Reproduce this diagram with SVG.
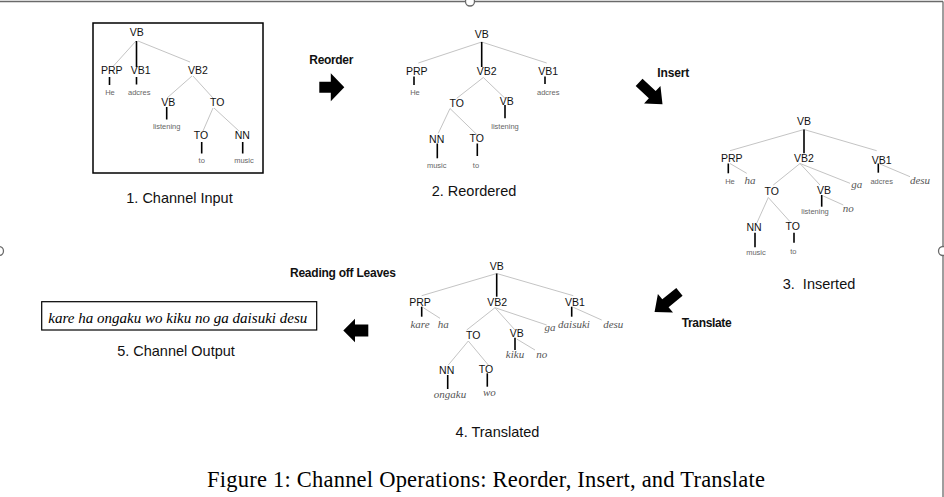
<svg xmlns="http://www.w3.org/2000/svg" width="944" height="497" viewBox="0 0 944 497">
<style>
.n{font-family:"Liberation Sans",Arial,sans-serif;font-size:10.5px;fill:#111;text-anchor:middle}
.l{font-family:"Liberation Sans",Arial,sans-serif;font-size:7.5px;fill:#666;text-anchor:middle}
.i{font-family:"Liberation Serif","Times New Roman",serif;font-style:italic;font-size:11px;fill:#555;text-anchor:middle}
.c{font-family:"Liberation Sans",Arial,sans-serif;font-size:14.5px;fill:#111;text-anchor:middle}
.op{font-family:"Liberation Sans",Arial,sans-serif;font-size:12px;font-weight:bold;fill:#111}
.g{stroke:#c4c4c4;stroke-width:1;fill:none}
.b{stroke:#000;stroke-width:1.6;fill:none}
.frame{stroke:#6a6a6a;stroke-width:1.3;fill:none}
.handle{stroke:#6a6a6a;stroke-width:1.3;fill:#fff}
</style>
<defs>
<path id="arrowR" d="M-12.5,-5.5 H-1 V-14 L12.5,0 L-1,14 V5.5 H-12.5 Z" fill="#000"/>
<path id="arrowD" d="M-16,-5 H2 V-12 L16,0 L2,12 V5 H-16 Z" fill="#000"/>
<path id="arrowL" d="M-12.5,-6 H0.8 V-11.7 L12.5,0 L0.8,11.7 V6 H-12.5 Z" fill="#000"/>
</defs>

<g id="frame">
<line class="frame" x1="0" y1="1.5" x2="943" y2="1.5"/>
<line class="frame" x1="943" y1="1.5" x2="943" y2="497"/>
<circle class="handle" cx="470" cy="1.5" r="4.5"/>
<circle class="handle" cx="-1" cy="251" r="4.5"/>
<circle class="handle" cx="943" cy="251" r="4.5"/>
</g>

<g id="tree1">
<rect x="93" y="23" width="170" height="150" fill="none" stroke="#000" stroke-width="1.5"/>
<g class="edges">
<line class="g" x1="136" y1="41" x2="113" y2="66.5"/>
<line class="g" x1="138" y1="41" x2="190" y2="62"/>
<line class="g" x1="192" y1="76" x2="167" y2="98"/>
<line class="g" x1="193" y1="76" x2="213" y2="98"/>
<line class="g" x1="213" y1="108" x2="203" y2="131"/>
<line class="g" x1="214" y1="108" x2="239" y2="131"/>
<line class="b" x1="136.5" y1="41" x2="136.5" y2="67"/>
<line class="b" x1="109.5" y1="77" x2="109.5" y2="85"/>
<line class="b" x1="136.5" y1="77" x2="136.5" y2="84.5"/>
<line class="b" x1="166.7" y1="107" x2="166.7" y2="119.5"/>
<line class="b" x1="201.7" y1="142" x2="201.7" y2="153.5"/>
<line class="b" x1="242.7" y1="142" x2="242.7" y2="153.5"/>
</g>
<text class="n" x="136.7" y="36.3">VB</text>
<text class="n" x="111.7" y="74.3">PRP</text>
<text class="n" x="140.7" y="74.3">VB1</text>
<text class="n" x="198" y="74.3">VB2</text>
<text class="n" x="168.3" y="106.3">VB</text>
<text class="n" x="217.3" y="106.3">TO</text>
<text class="n" x="201" y="139.3">TO</text>
<text class="n" x="242.3" y="139.3">NN</text>
<text class="l" x="110" y="94.5">He</text>
<text class="l" x="139.3" y="94.5">adcres</text>
<text class="l" x="166.7" y="128.5">listening</text>
<text class="l" x="201.7" y="162.5">to</text>
<text class="l" x="244" y="162.5">music</text>
<text class="c" x="179.5" y="203">1. Channel Input</text>
</g>

<g id="tree2">
<g class="edges">
<line class="g" x1="481.7" y1="42" x2="418.3" y2="63"/>
<line class="g" x1="481.7" y1="42" x2="546.7" y2="63"/>
<line class="g" x1="483.3" y1="77.5" x2="456.7" y2="98.3"/>
<line class="g" x1="483.3" y1="77.5" x2="505" y2="98.3"/>
<line class="g" x1="450" y1="108.5" x2="438.3" y2="133.3"/>
<line class="g" x1="450" y1="108.5" x2="477.3" y2="135"/>
<line class="b" x1="481.7" y1="42" x2="481.7" y2="67"/>
<line class="b" x1="414" y1="76.5" x2="414" y2="85"/>
<line class="b" x1="545" y1="76.5" x2="545" y2="84"/>
<line class="b" x1="505" y1="105" x2="505" y2="118.3"/>
<line class="b" x1="437.3" y1="143.5" x2="437.3" y2="158.3"/>
<line class="b" x1="477.3" y1="143.5" x2="477.3" y2="156"/>
</g>
<text class="n" x="481.7" y="37.5">VB</text>
<text class="n" x="416.7" y="75.3">PRP</text>
<text class="n" x="486.7" y="75.3">VB2</text>
<text class="n" x="548.3" y="75.3">VB1</text>
<text class="n" x="456.7" y="106.9">TO</text>
<text class="n" x="506.7" y="105.3">VB</text>
<text class="n" x="436.7" y="142.9">NN</text>
<text class="n" x="476.7" y="141.9">TO</text>
<text class="l" x="415" y="95.2">He</text>
<text class="l" x="548.3" y="95.2">adcres</text>
<text class="l" x="505" y="128.5">listening</text>
<text class="l" x="436.7" y="167.5">music</text>
<text class="l" x="476" y="167.5">to</text>
<text class="c" x="474" y="196">2. Reordered</text>
</g>

<g id="tree3">
<g class="edges">
<line class="g" x1="804" y1="129.5" x2="730" y2="150.7"/>
<line class="g" x1="804" y1="129.5" x2="876.7" y2="150.7"/>
<line class="g" x1="730" y1="163.5" x2="746.7" y2="173.3"/>
<line class="g" x1="800" y1="163.5" x2="773.3" y2="185"/>
<line class="g" x1="800" y1="163.5" x2="820" y2="185"/>
<line class="g" x1="800" y1="163.5" x2="850" y2="183.3"/>
<line class="g" x1="880" y1="164" x2="910" y2="176.7"/>
<line class="g" x1="823.3" y1="196" x2="843.3" y2="205"/>
<line class="g" x1="768.3" y1="197.5" x2="756.7" y2="223.3"/>
<line class="g" x1="768.3" y1="197.5" x2="790" y2="221.7"/>
<line class="b" x1="804" y1="129.5" x2="804" y2="153.3"/>
<line class="b" x1="728.3" y1="163.5" x2="728.3" y2="173.3"/>
<line class="b" x1="878.3" y1="163.5" x2="878.3" y2="172.7"/>
<line class="b" x1="821.7" y1="195" x2="821.7" y2="206.7"/>
<line class="b" x1="755" y1="232.7" x2="755" y2="247.3"/>
<line class="b" x1="794" y1="232.7" x2="794" y2="242.7"/>
</g>
<text class="n" x="804" y="125.3">VB</text>
<text class="n" x="731.7" y="161.9">PRP</text>
<text class="n" x="804" y="161.9">VB2</text>
<text class="n" x="881.7" y="163.6">VB1</text>
<text class="n" x="771.7" y="194.6">TO</text>
<text class="n" x="824" y="193.6">VB</text>
<text class="n" x="754" y="230.9">NN</text>
<text class="n" x="792.7" y="230.3">TO</text>
<text class="l" x="730" y="183.5">He</text>
<text class="l" x="881.7" y="183.5">adcres</text>
<text class="l" x="815" y="214">listening</text>
<text class="l" x="756" y="255">music</text>
<text class="l" x="793.3" y="253.5">to</text>
<text class="i" x="750" y="183.5" font-size="10">ha</text>
<text class="i" x="856.7" y="187.5">ga</text>
<text class="i" x="848.3" y="212" font-size="10">no</text>
<text class="i" x="920" y="184">desu</text>
<text class="c" x="819" y="289">3.&#160; Inserted</text>
</g>

<g id="tree4">
<g class="edges">
<line class="g" x1="496.7" y1="273.5" x2="421.7" y2="295.7"/>
<line class="g" x1="496.7" y1="273.5" x2="573.3" y2="295.7"/>
<line class="g" x1="423.3" y1="307.7" x2="440" y2="318.3"/>
<line class="g" x1="495" y1="307.7" x2="466.7" y2="330"/>
<line class="g" x1="495" y1="307.7" x2="515" y2="330"/>
<line class="g" x1="495" y1="307.7" x2="546.7" y2="325"/>
<line class="g" x1="573.3" y1="307.3" x2="601.7" y2="320"/>
<line class="g" x1="516.7" y1="339" x2="535" y2="350"/>
<line class="g" x1="468.3" y1="341" x2="448.3" y2="365"/>
<line class="g" x1="468.3" y1="341" x2="488.3" y2="365"/>
<line class="b" x1="496.7" y1="273.5" x2="496.7" y2="296.7"/>
<line class="b" x1="421.7" y1="306.7" x2="421.7" y2="316.7"/>
<line class="b" x1="571.7" y1="306.7" x2="571.7" y2="316.7"/>
<line class="b" x1="515" y1="337.7" x2="515" y2="350"/>
<line class="b" x1="447.7" y1="375" x2="447.7" y2="389"/>
<line class="b" x1="487.3" y1="373.3" x2="487.3" y2="386.7"/>
</g>
<text class="n" x="496.7" y="270.3">VB</text>
<text class="n" x="420" y="306.3">PRP</text>
<text class="n" x="497.3" y="306.3">VB2</text>
<text class="n" x="575" y="306.3">VB1</text>
<text class="n" x="473.3" y="338.6">TO</text>
<text class="n" x="516.7" y="336.9">VB</text>
<text class="n" x="446.7" y="374.3">NN</text>
<text class="n" x="486" y="372.9">TO</text>
<text class="i" x="420" y="327.5" font-size="11.5">kare</text>
<text class="i" x="443.3" y="327.5" font-size="10">ha</text>
<text class="i" x="550" y="330.5">ga</text>
<text class="i" x="574" y="327.5" font-size="8.5">daisuki</text>
<text class="i" x="613.3" y="328">desu</text>
<text class="i" x="515" y="357.5">kiku</text>
<text class="i" x="541.7" y="357.5" font-size="10">no</text>
<text class="i" x="450" y="398">ongaku</text>
<text class="i" x="489.3" y="396">wo</text>
<text class="c" x="497.5" y="437">4. Translated</text>
</g>

<g id="output">
<rect x="41.7" y="301.7" width="275" height="28.3" fill="none" stroke="#000" stroke-width="1.2"/>
<text x="48.3" y="322.7" font-family="'Liberation Serif','Times New Roman',serif" font-style="italic" font-size="15" fill="#000" textLength="259">kare ha ongaku wo kiku no ga daisuki desu</text>
<text class="c" x="176" y="356">5. Channel Output</text>
</g>

<g id="connectors">
<use href="#arrowR" transform="translate(331.8,87.3)"/>
<text class="op" x="309.3" y="64" textLength="44">Reorder</text>
<use href="#arrowD" transform="translate(650.8,93.3) rotate(43)"/>
<text class="op" x="657.3" y="76.7" textLength="32">Insert</text>
<use href="#arrowD" transform="translate(667,302) rotate(141)"/>
<text class="op" x="681.7" y="327.3" textLength="50">Translate</text>
<use href="#arrowL" transform="translate(355.8,330.5) rotate(180)"/>
<text class="op" x="290" y="276.7" textLength="106">Reading off Leaves</text>
</g>

<text x="207" y="487" font-family="'Liberation Serif','Times New Roman',serif" font-size="22.5" fill="#000" textLength="558">Figure 1: Channel Operations: Reorder, Insert, and Translate</text>
</svg>
